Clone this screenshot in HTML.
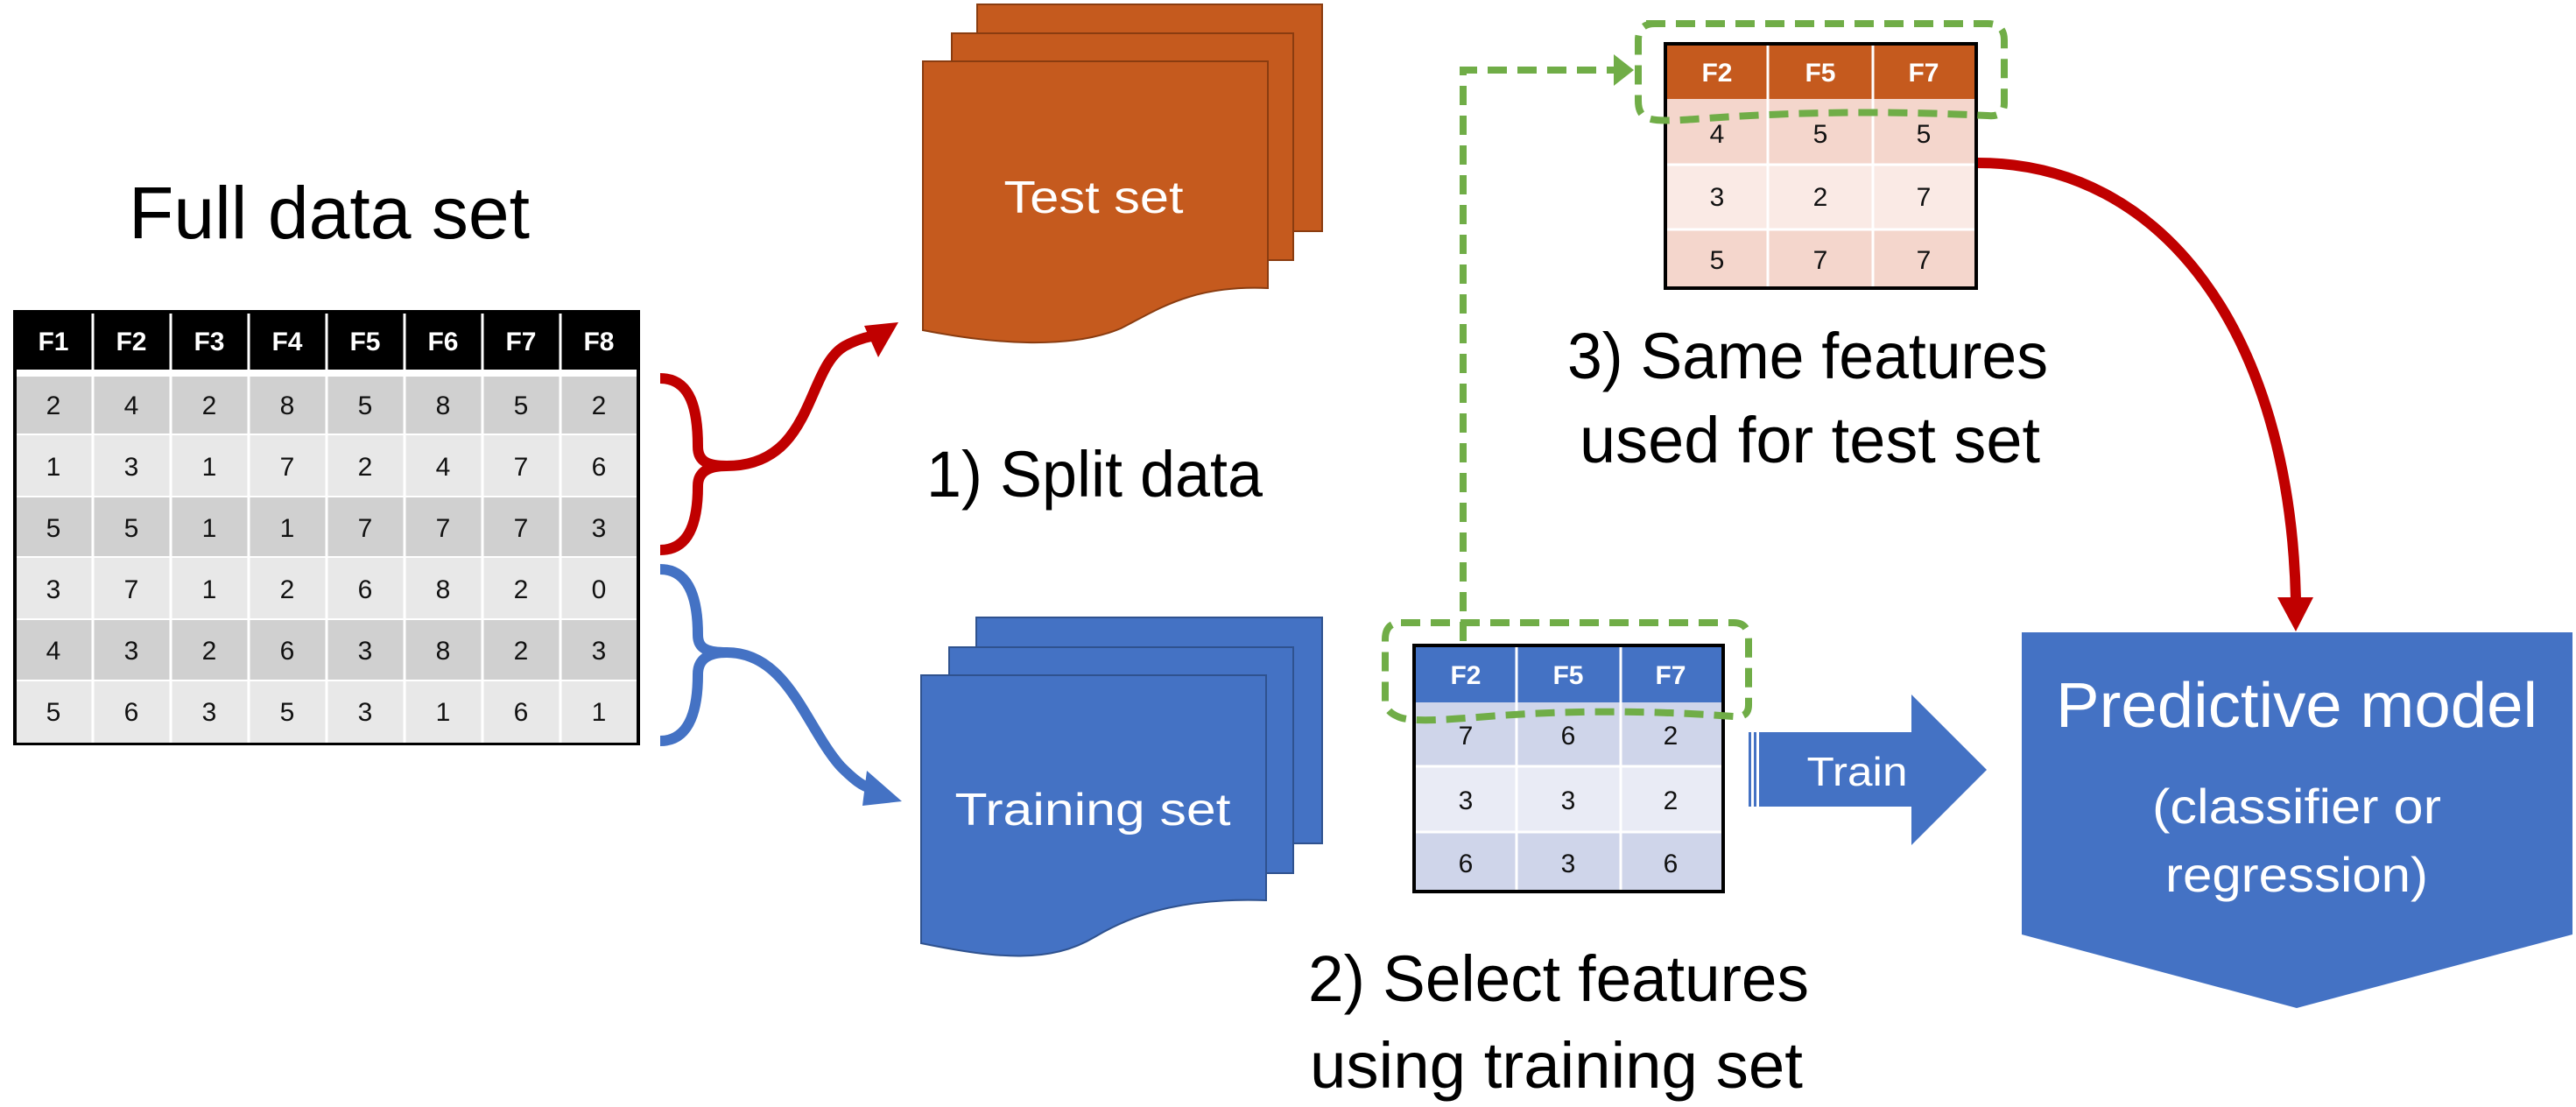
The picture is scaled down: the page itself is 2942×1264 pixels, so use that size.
<!DOCTYPE html>
<html><head><meta charset="utf-8"><style>
html,body{margin:0;padding:0;background:#fff;}
svg{display:block;font-family:"Liberation Sans",sans-serif;}
</style></head><body>
<svg width="2942" height="1264" viewBox="0 0 2942 1264" xmlns="http://www.w3.org/2000/svg">
<!-- Full data set title -->
<text x="147" y="272" font-size="84" textLength="458" lengthAdjust="spacingAndGlyphs">Full data set</text>

<!-- Big table -->
<g>
<rect x="15" y="354" width="716" height="497" fill="#000"/>
<rect x="19" y="422" width="708" height="426" fill="#fff"/>
<g id="rows">
<rect x="19" y="430" width="708" height="65" fill="#d0d0d0"/>
<rect x="19" y="497" width="708" height="69" fill="#e8e8e8"/>
<rect x="19" y="568" width="708" height="67" fill="#d0d0d0"/>
<rect x="19" y="637" width="708" height="69" fill="#e8e8e8"/>
<rect x="19" y="708" width="708" height="68" fill="#d0d0d0"/>
<rect x="19" y="778" width="708" height="70" fill="#e8e8e8"/>
</g>
<g stroke="#fff" stroke-width="3">
<line x1="106" y1="358" x2="106" y2="848"/><line x1="195" y1="358" x2="195" y2="848"/>
<line x1="284" y1="358" x2="284" y2="848"/><line x1="373" y1="358" x2="373" y2="848"/>
<line x1="462" y1="358" x2="462" y2="848"/><line x1="551" y1="358" x2="551" y2="848"/>
<line x1="640" y1="358" x2="640" y2="848"/>
</g>
<g font-size="30" font-weight="bold" fill="#fff" text-anchor="middle">
<text x="61" y="400">F1</text><text x="150" y="400">F2</text><text x="239" y="400">F3</text><text x="328" y="400">F4</text><text x="417" y="400">F5</text><text x="506" y="400">F6</text><text x="595" y="400">F7</text><text x="684" y="400">F8</text>
</g>
<g font-size="30" fill="#111" text-anchor="middle">
<text y="473"><tspan x="61">2</tspan><tspan x="150">4</tspan><tspan x="239">2</tspan><tspan x="328">8</tspan><tspan x="417">5</tspan><tspan x="506">8</tspan><tspan x="595">5</tspan><tspan x="684">2</tspan></text>
<text y="543"><tspan x="61">1</tspan><tspan x="150">3</tspan><tspan x="239">1</tspan><tspan x="328">7</tspan><tspan x="417">2</tspan><tspan x="506">4</tspan><tspan x="595">7</tspan><tspan x="684">6</tspan></text>
<text y="613"><tspan x="61">5</tspan><tspan x="150">5</tspan><tspan x="239">1</tspan><tspan x="328">1</tspan><tspan x="417">7</tspan><tspan x="506">7</tspan><tspan x="595">7</tspan><tspan x="684">3</tspan></text>
<text y="683"><tspan x="61">3</tspan><tspan x="150">7</tspan><tspan x="239">1</tspan><tspan x="328">2</tspan><tspan x="417">6</tspan><tspan x="506">8</tspan><tspan x="595">2</tspan><tspan x="684">0</tspan></text>
<text y="753"><tspan x="61">4</tspan><tspan x="150">3</tspan><tspan x="239">2</tspan><tspan x="328">6</tspan><tspan x="417">3</tspan><tspan x="506">8</tspan><tspan x="595">2</tspan><tspan x="684">3</tspan></text>
<text y="823"><tspan x="61">5</tspan><tspan x="150">6</tspan><tspan x="239">3</tspan><tspan x="328">5</tspan><tspan x="417">3</tspan><tspan x="506">1</tspan><tspan x="595">6</tspan><tspan x="684">1</tspan></text>
</g>
</g>

<!-- Red brace -->
<g fill="none" stroke="#c00000" stroke-width="12">
<path d="M754,432 C790,432 797,470 797,510 C797,528 810,532 830,532"/>
<path d="M754,628 C790,628 797,590 797,555 C797,538 810,532 830,532"/>
<path d="M830,532 C930,532 920,420 965,395 C980,387 990,385 995,384"/>
</g>
<polygon points="1026,368 987,372 1003,408" fill="#c00000"/>
<!-- Blue brace -->
<g fill="none" stroke="#4472c4" stroke-width="12">
<path d="M754,650 C790,650 797,690 797,725 C797,742 810,745 830,745"/>
<path d="M754,846 C790,846 797,805 797,770 C797,752 810,745 830,745"/>
<path d="M830,745 C900,745 920,830 960,875 C975,890 985,898 995,900"/>
</g>
<polygon points="1030,915 990,880 985,920" fill="#4472c4"/>

<!-- Test set stack -->
<g fill="#c55a1e" stroke="#8a3c10" stroke-width="2">
<rect x="1116" y="5" width="394" height="259"/>
<rect x="1087" y="38" width="390" height="259"/>
<path d="M1054,70 H1448 V329 C1360,325 1320,355 1280,375 C1220,400 1130,392 1054,377 Z"/>
</g>
<text x="1249" y="243" font-size="52" fill="#fff" text-anchor="middle" textLength="205" lengthAdjust="spacingAndGlyphs">Test set</text>

<!-- Training set stack -->
<g fill="#4472c4" stroke="#2f528f" stroke-width="2">
<rect x="1115" y="705" width="395" height="258"/>
<rect x="1084" y="739" width="393" height="258"/>
<path d="M1052,771 H1446 V1028 C1360,1025 1300,1040 1250,1070 C1200,1100 1140,1095 1052,1077 Z"/>
</g>
<text x="1248" y="942" font-size="52" fill="#fff" text-anchor="middle" textLength="315" lengthAdjust="spacingAndGlyphs">Training set</text>

<!-- Labels -->
<text x="1058" y="567" font-size="74" textLength="384" lengthAdjust="spacingAndGlyphs">1) Split data</text>
<text x="1790" y="432" font-size="74" textLength="549" lengthAdjust="spacingAndGlyphs">3) Same features</text>
<text x="1804" y="528" font-size="74" textLength="526" lengthAdjust="spacingAndGlyphs">used for test set</text>
<text x="1494" y="1143" font-size="74" textLength="572" lengthAdjust="spacingAndGlyphs">2) Select features</text>
<text x="1496" y="1242" font-size="74" textLength="563" lengthAdjust="spacingAndGlyphs">using training set</text>

<!-- Test table -->
<rect x="1900" y="48" width="359" height="283" fill="#000"/>
<rect x="1904" y="52" width="351" height="61" fill="#c55a1e"/>
<rect x="1904" y="113" width="351" height="75" fill="#f4d6cc"/>
<rect x="1904" y="188" width="351" height="74" fill="#faeae5"/>
<rect x="1904" y="262" width="351" height="65" fill="#f4d6cc"/>
<g stroke="#fff" stroke-width="3"><line x1="2019" y1="52" x2="2019" y2="327"/><line x1="2139" y1="52" x2="2139" y2="327"/>
<line x1="1904" y1="188" x2="2255" y2="188"/><line x1="1904" y1="262" x2="2255" y2="262"/></g>
<g font-size="30" font-weight="bold" fill="#fff" text-anchor="middle"><text x="1961" y="93">F2</text><text x="2079" y="93">F5</text><text x="2197" y="93">F7</text></g>
<g font-size="30" fill="#111" text-anchor="middle">
<text y="163"><tspan x="1961">4</tspan><tspan x="2079">5</tspan><tspan x="2197">5</tspan></text>
<text y="235"><tspan x="1961">3</tspan><tspan x="2079">2</tspan><tspan x="2197">7</tspan></text>
<text y="307"><tspan x="1961">5</tspan><tspan x="2079">7</tspan><tspan x="2197">7</tspan></text>
</g>

<!-- Train table -->
<rect x="1613" y="735" width="357" height="285" fill="#000"/>
<rect x="1617" y="739" width="349" height="63" fill="#4472c4"/>
<rect x="1617" y="802" width="349" height="73" fill="#cfd5ea"/>
<rect x="1617" y="875" width="349" height="75" fill="#e9ebf5"/>
<rect x="1617" y="950" width="349" height="66" fill="#cfd5ea"/>
<g stroke="#fff" stroke-width="3"><line x1="1732" y1="739" x2="1732" y2="1016"/><line x1="1851" y1="739" x2="1851" y2="1016"/>
<line x1="1617" y1="875" x2="1966" y2="875"/><line x1="1617" y1="950" x2="1966" y2="950"/></g>
<g font-size="30" font-weight="bold" fill="#fff" text-anchor="middle"><text x="1674" y="781">F2</text><text x="1791" y="781">F5</text><text x="1908" y="781">F7</text></g>
<g font-size="30" fill="#111" text-anchor="middle">
<text y="850"><tspan x="1674">7</tspan><tspan x="1791">6</tspan><tspan x="1908">2</tspan></text>
<text y="924"><tspan x="1674">3</tspan><tspan x="1791">3</tspan><tspan x="1908">2</tspan></text>
<text y="996"><tspan x="1674">6</tspan><tspan x="1791">3</tspan><tspan x="1908">6</tspan></text>
</g>

<!-- Green dashed -->
<g fill="none" stroke="#70ad47" stroke-width="8" stroke-dasharray="22 12">
<path d="M1671,732 V80 H1845"/>
<path d="M1880,27 H2270 Q2289,27 2289,46 V118 Q2289,134 2270,132 C2150,126 2050,128 1950,135 C1920,137 1890,140 1880,134 Q1871,130 1871,115 V46 Q1871,27 1890,27 Z"/>
<path d="M1600,711 H1980 Q1997,711 1997,730 V805 Q1997,820 1980,818 C1900,812 1800,810 1700,818 C1650,822 1610,825 1596,818 Q1582,812 1582,800 V730 Q1582,711 1600,711 Z"/>
</g>
<polygon points="1866,80 1843,62 1843,98" fill="#70ad47"/>

<!-- Train arrow -->
<g fill="#4472c4">
<rect x="1997" y="836" width="3" height="85"/><rect x="2003" y="836" width="3" height="85"/>
<polygon points="2009,836 2183,836 2183,793 2269,879 2183,965 2183,921 2009,921"/>
</g>
<text x="2121" y="897" font-size="46" fill="#fff" text-anchor="middle" textLength="115" lengthAdjust="spacingAndGlyphs">Train</text>

<!-- Predictive model -->
<polygon points="2309,722 2938,722 2938,1067 2623,1151 2309,1067" fill="#4472c4"/>
<text x="2623" y="830" font-size="72" fill="#fff" text-anchor="middle" textLength="550" lengthAdjust="spacingAndGlyphs">Predictive model</text>
<text x="2623" y="940" font-size="56" fill="#fff" text-anchor="middle" textLength="330" lengthAdjust="spacingAndGlyphs">(classifier or</text>
<text x="2623" y="1018" font-size="56" fill="#fff" text-anchor="middle" textLength="300" lengthAdjust="spacingAndGlyphs">regression)</text>

<!-- Red curved arrow -->
<path d="M2259,186 C2470,186 2615,380 2622,684" fill="none" stroke="#c00000" stroke-width="12"/>
<polygon points="2601,682 2642,682 2622,721" fill="#c00000"/>
</svg>
</body></html>
